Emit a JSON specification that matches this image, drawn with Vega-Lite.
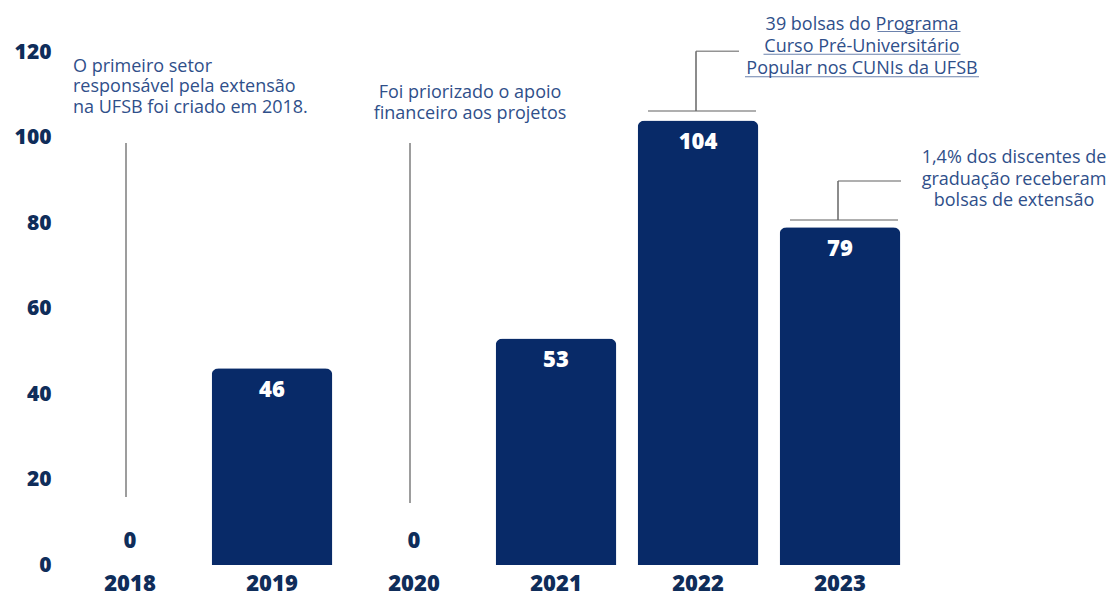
{
  "$schema": "https://vega.github.io/schema/vega-lite/v6.json",
  "width": 852,
  "height": 513,
  "autosize": "none",
  "padding": {"left": 59, "top": 52, "right": 198, "bottom": 30},
  "background": "white",
  "config": {"view": {"stroke": null}, "font": "Open Sans"},
  "datasets": {
    "bars": [
      {"year": "2018", "value": 0},
      {"year": "2019", "value": 46},
      {"year": "2020", "value": 0},
      {"year": "2021", "value": 53},
      {"year": "2022", "value": 104},
      {"year": "2023", "value": 79}
    ],
    "leaders": [
      {"year": "2018", "low": 15.9, "high": 98.7},
      {"year": "2020", "low": 14.5, "high": 98.7}
    ],
    "brackets": [
      {"year": "2022", "base": 106.2, "top": 120.2},
      {"year": "2023", "base": 80.7, "top": 89.8}
    ],
    "notes": [
      {"id": "a", "year": "2018", "y": 116.5, "lines": ["O primeiro setor", "responsável pela extensão", "na UFSB  foi criado em 2018."]},
      {"id": "b", "year": "2020", "y": 110.4, "lines": ["Foi priorizado o apoio", "financeiro aos projetos"]},
      {"id": "c", "year": "2022", "y": 126.3, "lines": ["39 bolsas do Programa", "Curso Pré-Universitário", "Popular nos CUNIs da UFSB"]},
      {"id": "d", "year": "2023", "y": 95.2, "lines": ["1,4% dos discentes de", "graduação receberam", "bolsas de extensão"]}
    ],
    "underlines": [
      {"id": "u1", "year": "2022", "y": 124.8},
      {"id": "u2", "year": "2022", "y": 119.5},
      {"id": "u3", "year": "2022", "y": 114.2}
    ]
  },
  "encoding": {
    "x": {
      "field": "year",
      "type": "ordinal",
      "scale": {"paddingInner": 0.15, "paddingOuter": 0.075},
      "axis": {
        "title": null,
        "labelAngle": 0,
        "labelFontSize": 22,
        "labelFontWeight": 800,
        "labelColor": "#0f2d5a",
        "labelPadding": 8,
        "domain": false,
        "ticks": false
      }
    }
  },
  "layer": [
    {
      "data": {"name": "bars"},
      "mark": {"type": "bar", "color": "#082a68", "cornerRadiusTopLeft": 7, "cornerRadiusTopRight": 7},
      "encoding": {
        "y": {
          "field": "value",
          "type": "quantitative",
          "scale": {"domain": [0, 120], "nice": false},
          "axis": {
            "title": null,
            "values": [0, 20, 40, 60, 80, 100, 120],
            "labelFontSize": 21,
            "labelFontWeight": 800,
            "labelColor": "#0f2d5a",
            "labelPadding": 8,
            "domain": false,
            "ticks": false,
            "grid": false
          }
        }
      }
    },
    {
      "data": {"name": "bars"},
      "transform": [{"filter": "datum.value > 0"}],
      "mark": {"type": "text", "color": "white", "fontSize": 22, "fontWeight": 800, "baseline": "middle", "dy": 22},
      "encoding": {
        "y": {"field": "value", "type": "quantitative", "title": null},
        "text": {"field": "value", "type": "quantitative"}
      }
    },
    {
      "data": {"name": "bars"},
      "transform": [{"filter": "datum.value == 0"}],
      "mark": {"type": "text", "color": "#0f2d5a", "fontSize": 22, "fontWeight": 800, "baseline": "middle", "dy": -24},
      "encoding": {
        "y": {"field": "value", "type": "quantitative", "title": null},
        "text": {"field": "value", "type": "quantitative"}
      }
    },
    {
      "data": {"name": "leaders"},
      "mark": {"type": "rule", "color": "#7d7d7d", "strokeWidth": 1.5, "xOffset": -4},
      "encoding": {
        "y": {"field": "low", "type": "quantitative", "title": null},
        "y2": {"field": "high"}
      }
    },
    {
      "data": {"name": "brackets"},
      "mark": {"type": "rule", "color": "#666666", "strokeWidth": 1.5, "xOffset": -2},
      "encoding": {
        "y": {"field": "base", "type": "quantitative", "title": null},
        "y2": {"field": "top"}
      }
    },
    {
      "data": {"name": "brackets"},
      "mark": {"type": "tick", "color": "#666666", "thickness": 1.5, "size": 108, "xOffset": 4, "orient": "horizontal"},
      "encoding": {
        "y": {"field": "base", "type": "quantitative", "title": null}
      }
    },
    {
      "data": {"name": "brackets"},
      "transform": [{"filter": "datum.year == '2022'"}],
      "mark": {"type": "tick", "color": "#666666", "thickness": 1.5, "size": 43, "xOffset": 19.5, "orient": "horizontal"},
      "encoding": {
        "y": {"field": "top", "type": "quantitative", "title": null}
      }
    },
    {
      "data": {"name": "brackets"},
      "transform": [{"filter": "datum.year == '2023'"}],
      "mark": {"type": "tick", "color": "#666666", "thickness": 1.5, "size": 63, "xOffset": 29.5, "orient": "horizontal"},
      "encoding": {
        "y": {"field": "top", "type": "quantitative", "title": null}
      }
    },
    {
      "data": {"name": "notes"},
      "transform": [{"filter": "datum.id == 'a'"}],
      "mark": {"type": "text", "color": "#2f4f8a", "fontSize": 18, "align": "left", "baseline": "middle", "lineHeight": 20.5, "dx": -57},
      "encoding": {
        "y": {"field": "y", "type": "quantitative", "title": null},
        "text": {"field": "lines"}
      }
    },
    {
      "data": {"name": "notes"},
      "transform": [{"filter": "datum.id == 'b'"}],
      "mark": {"type": "text", "color": "#2f4f8a", "fontSize": 18, "align": "center", "baseline": "middle", "lineHeight": 21, "dx": 56},
      "encoding": {
        "y": {"field": "y", "type": "quantitative", "title": null},
        "text": {"field": "lines"}
      }
    },
    {
      "data": {"name": "notes"},
      "transform": [{"filter": "datum.id == 'c'"}],
      "mark": {"type": "text", "color": "#2f4f8a", "fontSize": 18, "align": "center", "baseline": "middle", "lineHeight": 22, "dx": 164},
      "encoding": {
        "y": {"field": "y", "type": "quantitative", "title": null},
        "text": {"field": "lines"}
      }
    },
    {
      "data": {"name": "notes"},
      "transform": [{"filter": "datum.id == 'd'"}],
      "mark": {"type": "text", "color": "#2f4f8a", "fontSize": 18, "align": "center", "baseline": "middle", "lineHeight": 21.5, "dx": 174},
      "encoding": {
        "y": {"field": "y", "type": "quantitative", "title": null},
        "text": {"field": "lines"}
      }
    },
    {
      "data": {"name": "underlines"},
      "transform": [{"filter": "datum.id == 'u1'"}],
      "mark": {"type": "tick", "color": "#2f4f8a", "thickness": 1, "size": 83, "xOffset": 221, "orient": "horizontal"},
      "encoding": {
        "y": {"field": "y", "type": "quantitative", "title": null}
      }
    },
    {
      "data": {"name": "underlines"},
      "transform": [{"filter": "datum.id == 'u2'"}],
      "mark": {"type": "tick", "color": "#2f4f8a", "thickness": 1, "size": 197, "xOffset": 164, "orient": "horizontal"},
      "encoding": {
        "y": {"field": "y", "type": "quantitative", "title": null}
      }
    },
    {
      "data": {"name": "underlines"},
      "transform": [{"filter": "datum.id == 'u3'"}],
      "mark": {"type": "tick", "color": "#2f4f8a", "thickness": 1, "size": 234, "xOffset": 164, "orient": "horizontal"},
      "encoding": {
        "y": {"field": "y", "type": "quantitative", "title": null}
      }
    }
  ]
}
